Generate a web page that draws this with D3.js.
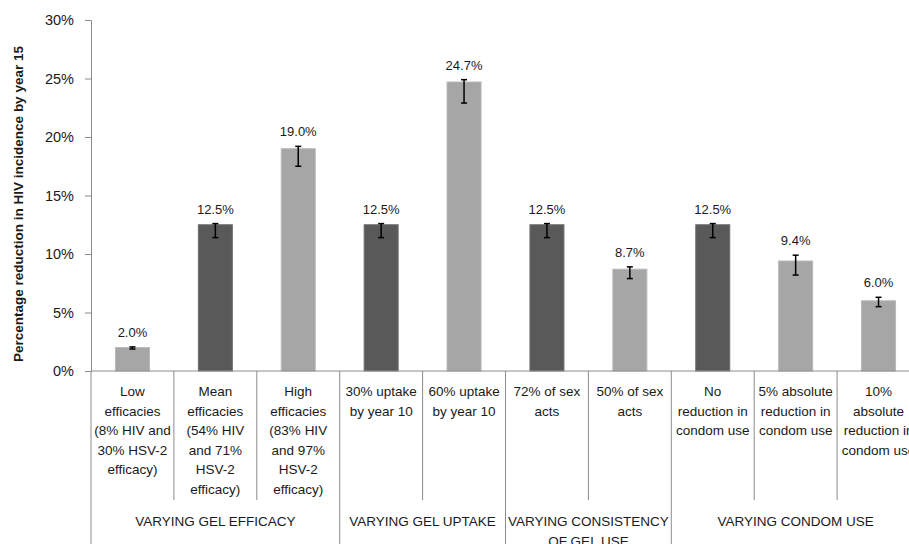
<!DOCTYPE html>
<html>
<head>
<meta charset="utf-8">
<script src="https://cdn.jsdelivr.net/npm/d3@7"></script>
<style>
  html, body { margin: 0; padding: 0; background: #fff; }
  svg { display: block; }
  text { font-family: "Liberation Sans", Arial, sans-serif; fill: #1a1a1a; }
</style>
</head>
<body>
<div id="chart"></div>
<script>
const catLabels = [
  ["Low", "efficacies", "(8% HIV and", "30% HSV-2", "efficacy)"],
  ["Mean", "efficacies", "(54% HIV", "and 71%", "HSV-2", "efficacy)"],
  ["High", "efficacies", "(83% HIV", "and 97%", "HSV-2", "efficacy)"],
  ["30% uptake", "by year 10"],
  ["60% uptake", "by year 10"],
  ["72% of sex", "acts"],
  ["50% of sex", "acts"],
  ["No", "reduction in", "condom use"],
  ["5% absolute", "reduction in", "condom use"],
  ["10%", "absolute", "reduction in", "condom use"]
];
const values  = [2.0, 12.5, 19.0, 12.5, 24.7, 12.5, 8.7, 12.5, 9.4, 6.0];
const errLow  = [1.88, 11.4, 17.5, 11.4, 22.9, 11.4, 7.9, 11.4, 8.2, 5.5];
const errHigh = [2.06, 12.6, 19.2, 12.6, 24.9, 12.6, 8.9, 12.6, 9.9, 6.3];
const shade   = ["light", "dark", "light", "dark", "light", "dark", "light", "dark", "light", "light"];
const groupNames = [["VARYING GEL EFFICACY"], ["VARYING GEL UPTAKE"], ["VARYING CONSISTENCY", "OF GEL USE"], ["VARYING CONDOM USE"]];
const groupSizes = [3, 2, 2, 3];
const yTicks = [0, 5, 10, 15, 20, 25, 30];
const yTitle = "Percentage reduction in HIV incidence by year 15";

const W = 909, H = 544;
const colors = { dark: "#595959", light: "#a6a6a6" };
const edge = { dark: "#6e6e6e", light: "#b8b8b8" };
const axisColor = "#8c8c8c";

const svg = d3.select("#chart").append("svg").attr("width", W).attr("height", H);

const x = d3.scaleBand().domain(d3.range(values.length)).range([91, 920]).padding(0);
const y = d3.scaleLinear().domain([0, 30]).range([371, 20]);
const barW = x.bandwidth() * 0.41;

// Y axis
const yAxis = d3.axisLeft(y).tickValues(yTicks).tickSize(6).tickPadding(11).tickFormat(d => d + "%");
const gy = svg.append("g").attr("transform", "translate(91,0)").call(yAxis);
gy.select(".domain").attr("stroke", axisColor);
gy.selectAll(".tick line").attr("stroke", axisColor);
gy.selectAll(".tick text").attr("font-size", 14.5).attr("fill", "#1a1a1a")
  .attr("font-family", "Liberation Sans, Arial, sans-serif");

// Y title
svg.append("text")
  .attr("transform", `translate(23,204) rotate(-90)`)
  .attr("text-anchor", "middle")
  .attr("font-size", 13.5)
  .attr("font-weight", "bold")
  .text(yTitle);

// Bars
svg.append("g").selectAll("rect").data(values).join("rect")
  .attr("x", (d, i) => x(i) + (x.bandwidth() - barW) / 2)
  .attr("width", barW)
  .attr("y", d => y(d))
  .attr("height", d => y(0) - y(d))
  .attr("fill", (d, i) => colors[shade[i]])
  .attr("stroke", (d, i) => edge[shade[i]])
  .attr("stroke-width", 1);

// Error bars
const eg = svg.append("g").attr("stroke", "#000").attr("stroke-width", 1.5);
values.forEach((v, i) => {
  const cx = x(i) + x.bandwidth() / 2;
  eg.append("line").attr("x1", cx).attr("x2", cx).attr("y1", y(errHigh[i])).attr("y2", y(errLow[i]));
  eg.append("line").attr("x1", cx - 3).attr("x2", cx + 3).attr("y1", y(errHigh[i])).attr("y2", y(errHigh[i]));
  eg.append("line").attr("x1", cx - 3).attr("x2", cx + 3).attr("y1", y(errLow[i])).attr("y2", y(errLow[i]));
});

// Value labels
svg.append("g").selectAll("text").data(values).join("text")
  .attr("x", (d, i) => x(i) + x.bandwidth() / 2)
  .attr("y", (d, i) => Math.min(y(d), y(errHigh[i])) - 10)
  .attr("text-anchor", "middle")
  .attr("font-size", 13)
  .text(d => d.toFixed(1) + "%");

// X axis line
svg.append("line").attr("x1", 91).attr("x2", 920).attr("y1", 371).attr("y2", 371).attr("stroke", axisColor);

// Category dividers and group dividers
let boundaries = [0];
groupSizes.reduce((acc, s) => { boundaries.push(acc + s); return acc + s; }, 0);
for (let i = 0; i <= values.length; i++) {
  const xx = i < values.length ? x(i) : x.range()[1];
  const isGroup = boundaries.includes(i);
  svg.append("line")
    .attr("x1", xx).attr("x2", xx)
    .attr("y1", 371).attr("y2", isGroup ? H : 500)
    .attr("stroke", axisColor);
}

// Category labels
const cl = svg.append("g");
catLabels.forEach((lines, i) => {
  const t = cl.append("text")
    .attr("x", x(i) + x.bandwidth() / 2)
    .attr("y", 396)
    .attr("text-anchor", "middle")
    .attr("font-size", 13.5);
  lines.forEach((ln, k) => {
    t.append("tspan").attr("x", x(i) + x.bandwidth() / 2).attr("dy", k === 0 ? 0 : 19.6).text(ln);
  });
});

// Group labels
const gl = svg.append("g");
groupNames.forEach((lines, g) => {
  const a = boundaries[g], b = boundaries[g + 1];
  const x0 = x(a), x1 = b < values.length ? x(b) : x.range()[1];
  const cx = (x0 + x1) / 2;
  const t = gl.append("text").attr("x", cx).attr("y", 526).attr("text-anchor", "middle").attr("font-size", 13.5);
  lines.forEach((ln, k) => {
    t.append("tspan").attr("x", cx).attr("dy", k === 0 ? 0 : 19.6).text(ln);
  });
});
</script>
</body>
</html>
